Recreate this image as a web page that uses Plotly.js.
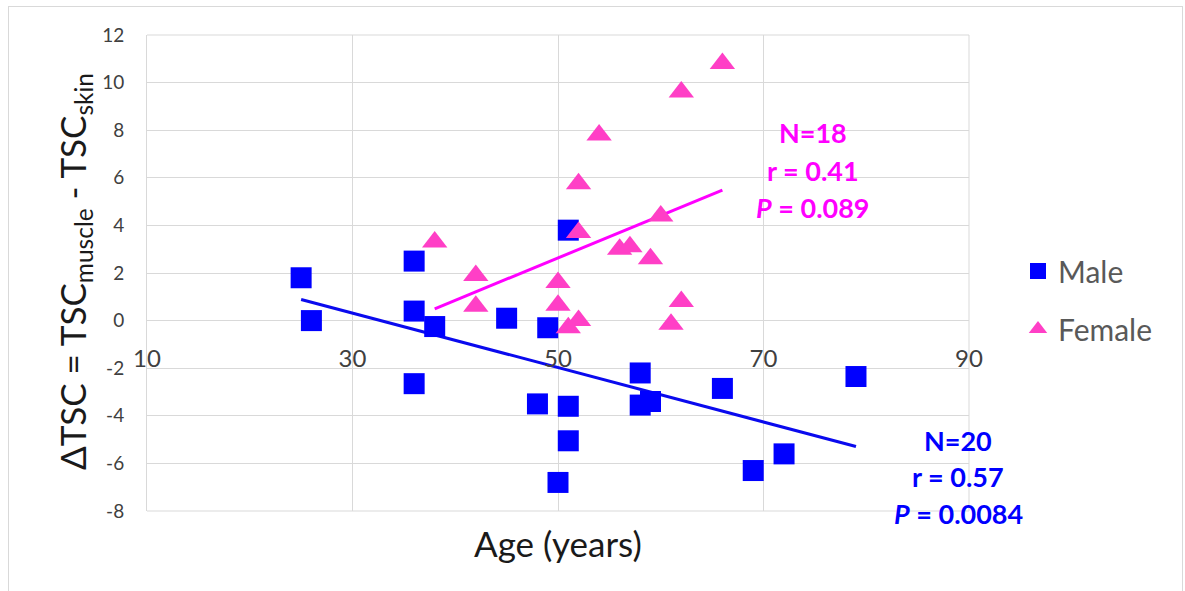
<!DOCTYPE html>
<html>
<head>
<meta charset="utf-8">
<script src="https://cdn.plot.ly/plotly-3.0.1.min.js"></script>
<style>
  html, body { margin: 0; padding: 0; background: #ffffff; }
  #wrap { position: relative; width: 1185px; height: 591px; }
  #chart { width: 1185px; height: 591px; }
  #frame { position: absolute; left: 8px; top: 6px; width: 1175px; height: 600px;
           border: 1px solid #d9d9d9; pointer-events: none; box-sizing: border-box; }
</style>
</head>
<body>
<div id="wrap">
  <div id="chart"></div>
  <div id="frame"></div>
</div>
<script>
// ---- Data ----
const maleAge = [25, 26, 36, 36, 36, 38, 45, 49, 51, 48, 51, 51, 50, 58, 58, 59, 66, 69, 72, 79];
const maleDTSC = [1.8, 0.0, 2.5, 0.4, -2.65, -0.25, 0.1, -0.3, 3.8, -3.5, -3.6, -5.05, -6.8, -2.2, -3.55, -3.4, -2.85, -6.3, -5.6, -2.35];

const femaleAge = [38, 42, 42, 50, 50, 51, 52, 52, 52, 54, 56, 57, 59, 60, 61, 62, 62, 66];
const femaleDTSC = [3.3, 1.9, 0.6, 1.6, 0.65, -0.3, 0.0, 3.7, 5.75, 7.8, 3.0, 3.1, 2.6, 4.4, -0.15, 0.8, 9.6, 10.8];

const xTicks = [10, 30, 50, 70, 90];
const yTicks = [-8, -6, -4, -2, 0, 2, 4, 6, 8, 10, 12];

const maleStats = ["N=20", "r = 0.57", "<i>P</i> = 0.0084"];
const femaleStats = ["N=18", "r = 0.41", "<i>P</i> = 0.089"];

// least-squares fit over the observed age range
function fitLine(xs, ys) {
  const n = xs.length;
  const mx = xs.reduce((a, b) => a + b, 0) / n;
  const my = ys.reduce((a, b) => a + b, 0) / n;
  let sxy = 0, sxx = 0;
  for (let i = 0; i < n; i++) { sxy += (xs[i] - mx) * (ys[i] - my); sxx += (xs[i] - mx) ** 2; }
  const b = sxy / sxx, a = my - b * mx;
  const x0 = Math.min(...xs), x1 = Math.max(...xs);
  return { x: [x0, x1], y: [a + b * x0, a + b * x1] };
}
const maleFit = fitLine(maleAge, maleDTSC);
const femaleFit = fitLine(femaleAge, femaleDTSC);

const FONT = "Lato, 'Open Sans', sans-serif";
const BLUE = "#0000ff";
const PINK = "#ff3fc6";
const MAGENTA = "#ff00ff";

const traces = [
  { x: maleFit.x, y: maleFit.y, mode: "lines", line: { color: "#0a0aee", width: 3 },
    showlegend: false, hoverinfo: "skip" },
  { x: femaleFit.x, y: femaleFit.y, mode: "lines", line: { color: MAGENTA, width: 3 },
    showlegend: false, hoverinfo: "skip" },
  { x: maleAge, y: maleDTSC, mode: "markers", name: "Male", legendgroup: "m",
    marker: { symbol: "square", size: 21, color: BLUE } },
  { x: femaleAge, y: femaleDTSC, mode: "markers", name: "Female", legendgroup: "f",
    marker: { symbol: "triangle-up", size: 22, color: PINK } }
];

// plot area in px: left 147, right 969, top 35, bottom 511
const L = 147, R = 969, T = 35, B = 511;
const px = v => (v - L) / (R - L);
const py = v => (B - v) / (B - T);

const annotations = [];
const fY = [132, 170, 207];
femaleStats.forEach((t, i) => annotations.push({
  text: t, xref: "paper", yref: "paper", x: px(813), y: py(fY[i]),
  xanchor: "center", yanchor: "middle", showarrow: false,
  font: { family: FONT, size: 27, color: MAGENTA, weight: "bold" }
}));
const mY = [440, 476, 513];
maleStats.forEach((t, i) => annotations.push({
  text: t, xref: "paper", yref: "paper", x: px(958), y: py(mY[i]),
  xanchor: "center", yanchor: "middle", showarrow: false,
  font: { family: FONT, size: 27, color: BLUE, weight: "bold" }
}));
annotations.push({
  text: "ΔTSC = TSC<sub>muscle</sub> - TSC<sub>skin</sub>", textangle: -90,
  xref: "paper", yref: "paper", x: px(74), y: py(272),
  xanchor: "center", yanchor: "middle", showarrow: false,
  font: { family: FONT, size: 35, color: "#1a1a1a" }
});
annotations.push({
  text: "Age (years)", xref: "paper", yref: "paper", x: px(558), y: py(543),
  xanchor: "center", yanchor: "middle", showarrow: false,
  font: { family: FONT, size: 35, color: "#1a1a1a" }
});

const layout = {
  width: 1185, height: 591,
  margin: { l: L, r: 1185 - R, t: T, b: 591 - B },
  paper_bgcolor: "rgba(0,0,0,0)", plot_bgcolor: "#ffffff",
  font: { family: FONT },
  showlegend: true,
  legend: { x: px(1018), y: py(245), xanchor: "left", yanchor: "top",
            font: { family: FONT, size: 30, color: "#595959" },
            traceorder: "grouped", tracegroupgap: 16, bgcolor: "rgba(0,0,0,0)" },
  xaxis: {
    range: [10, 90], tickvals: xTicks, ticktext: xTicks.map(String),
    anchor: "free", position: 0.4,
    showgrid: true, gridcolor: "#d9d9d9", gridwidth: 1,
    zeroline: false, showline: false,
    ticks: "outside", ticklen: 17, tickcolor: "rgba(0,0,0,0)",
    tickfont: { family: FONT, size: 24, color: "#404040" }
  },
  yaxis: {
    range: [-8, 12], tickvals: yTicks, ticktext: yTicks.map(String),
    showgrid: true, gridcolor: "#d9d9d9", gridwidth: 1,
    zeroline: false, showline: true, linecolor: "#d9d9d9", linewidth: 1,
    ticks: "outside", ticklen: 18, tickcolor: "rgba(0,0,0,0)",
    tickfont: { family: FONT, size: 19, color: "#404040" }
  },
  shapes: [
    { type: "line", xref: "paper", yref: "paper", x0: 0, x1: 1, y0: 0, y1: 0,
      line: { color: "#d9d9d9", width: 1 }, layer: "below" },
    { type: "line", xref: "paper", yref: "paper", x0: 0, x1: 1, y0: 1, y1: 1,
      line: { color: "#d9d9d9", width: 1 }, layer: "below" },
    { type: "line", xref: "paper", yref: "paper", x0: 1, x1: 1, y0: 0, y1: 1,
      line: { color: "#d9d9d9", width: 1 }, layer: "below" }
  ],
  annotations: annotations
};

Plotly.newPlot("chart", traces, layout, { displayModeBar: false, staticPlot: true });
</script>
</body>
</html>
